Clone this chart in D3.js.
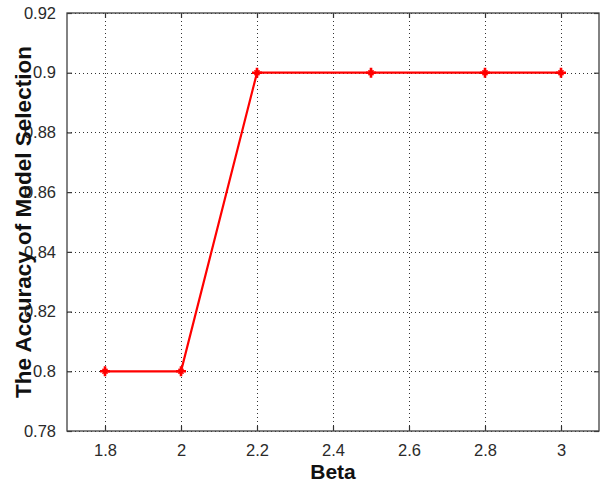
<!DOCTYPE html>
<html><head><meta charset="utf-8">
<script src="https://cdn.jsdelivr.net/npm/d3@7"></script>
<style>body{margin:0;background:#fff}svg{display:block}</style>
</head><body>
<svg id="c" width="602" height="485"></svg>
<script>
const betaValues = [1.8, 2, 2.2, 2.5, 2.8, 3];
const accuracyValues = [0.8, 0.8, 0.9, 0.9, 0.9, 0.9];
const xTicks = [1.8, 2, 2.2, 2.4, 2.6, 2.8, 3];
const yTicks = [0.78, 0.8, 0.82, 0.84, 0.86, 0.88, 0.9, 0.92];
const xTickLabels = ["1.8","2","2.2","2.4","2.6","2.8","3"];
const yTickLabels = ["0.78","0.8","0.82","0.84","0.86","0.88","0.9","0.92"];

const svg = d3.select("#c");
const L = 67, R = 599, T = 13, B = 431;
const x = d3.scaleLinear().domain([1.7, 3.1]).range([L, R]);
const y = d3.scaleLinear().domain([0.78, 0.92]).range([B, T]);
const font = "'Liberation Sans', Arial, sans-serif";

// grid
const g = svg.append("g");
g.selectAll(".vg").data(xTicks).enter().append("line")
  .attr("x1", d => Math.round(x(d)) + 0.5).attr("x2", d => Math.round(x(d)) + 0.5)
  .attr("y1", T).attr("y2", B)
  .attr("stroke", "#333").attr("stroke-width", 1).attr("stroke-dasharray", "1,3");
g.selectAll(".hg").data(yTicks).enter().append("line")
  .attr("y1", d => Math.round(y(d)) + 0.5).attr("y2", d => Math.round(y(d)) + 0.5)
  .attr("x1", L).attr("x2", R)
  .attr("stroke", "#333").attr("stroke-width", 1).attr("stroke-dasharray", "1,3");

// axes via d3 axes
const ax = svg.append("g").attr("transform", `translate(0,${B})`)
  .call(d3.axisBottom(x).tickValues(xTicks).tickSize(-5).tickPadding(13)
    .tickFormat((d,i) => xTickLabels[i]));
const axT = svg.append("g").attr("transform", `translate(0,${T})`)
  .call(d3.axisTop(x).tickValues(xTicks).tickSize(-5).tickFormat(""));
const ay = svg.append("g").attr("transform", `translate(${L},0)`)
  .call(d3.axisLeft(y).tickValues(yTicks).tickSize(-5).tickPadding(11)
    .tickFormat((d,i) => yTickLabels[i]));
const ayR = svg.append("g").attr("transform", `translate(${R},0)`)
  .call(d3.axisRight(y).tickValues(yTicks).tickSize(-5).tickFormat(""));
[ax, axT, ay, ayR].forEach(a => {
  a.select(".domain").remove();
  a.selectAll(".tick line").attr("stroke", "#333").attr("stroke-width", 1.2);
  a.selectAll("text").attr("font-family", font).attr("font-size", 16.5).attr("fill", "#2a2a2a");
});
svg.append("rect").attr("x", L).attr("y", T).attr("width", R - L).attr("height", B - T)
  .attr("fill", "none").attr("stroke", "#404040").attr("stroke-width", 1.3);

// line
const data = betaValues.map((b, i) => [b, accuracyValues[i]]);
svg.append("path").datum(data)
  .attr("d", d3.line().x(d => x(d[0])).y(d => y(d[1])))
  .attr("fill", "none").attr("stroke", "#ff0000").attr("stroke-width", 2.2);
const m = svg.selectAll(".mk").data(data).enter().append("g")
  .attr("transform", d => `translate(${x(d[0])},${y(d[1])})`);
m.append("path").attr("d", "M-5,0H5M0,-5V5")
  .attr("stroke", "#ff0000").attr("stroke-width", 2.6).attr("fill", "none");
m.append("path").attr("d", "M-2.5,-2.5L2.5,2.5M-2.5,2.5L2.5,-2.5")
  .attr("stroke", "#ff0000").attr("stroke-width", 1.6).attr("fill", "none");

// labels
svg.append("text").attr("x", (L + R) / 2).attr("y", 479)
  .attr("text-anchor", "middle").attr("font-family", font).attr("font-weight", "bold")
  .attr("font-size", 21).attr("fill", "#111").text("Beta");
svg.append("text").attr("transform", `translate(31,${(T + B) / 2}) rotate(-90)`)
  .attr("text-anchor", "middle").attr("font-family", font).attr("font-weight", "bold")
  .attr("font-size", 22.5).attr("fill", "#111").text("The Accuracy of Model Selection");
</script>
</body></html>
